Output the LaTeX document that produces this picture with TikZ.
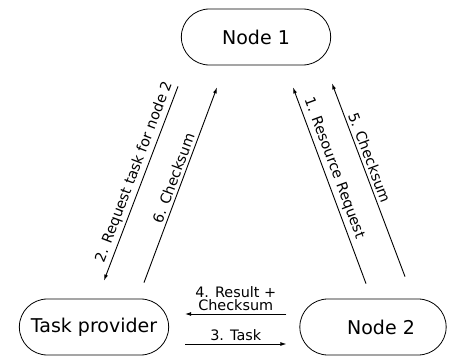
\documentclass[tikz,border=0pt]{standalone}
\usepackage{fontspec}
\setmainfont{DejaVu Sans}
\usetikzlibrary{positioning, arrows.meta, shapes.misc}
\tikzstyle{station} = [draw=black, rounded rectangle, minimum width=156pt, minimum height=56pt, line width=0.8pt, font=\fontsize{19}{22}\selectfont]
\tikzstyle{msg} = [-{Latex[length=6pt,width=4pt]}, line width=0.9pt]
\tikzstyle{msglabel} = [font=\fontsize{14.4}{13}\selectfont, inner sep=3pt]

\begin{document}
\begin{tikzpicture}[x=1pt, y=1pt, on grid]
	\useasboundingbox (0,0) rectangle (450,356);
	
	% stations
	\node[station] (node1) at (256,319) {Node 1};
	\node[station, below left=290pt and 162pt of node1] (provider) {Task provider};
	\node[station, minimum width=153pt, below right=290pt and 117pt of node1] (node2) {\hspace*{16pt}Node 2};
	
	% messages between node 1 and the task provider
	\draw[msg] ([shift={(-78,-21)}]node1.south) -- ([shift={(10,18)}]provider.north) node[msglabel, pos=0.46, sloped, above] {2. Request task for node 2};
	\draw[msg] ([shift={(50,16)}]provider.north) -- ([shift={(-39,-22)}]node1.south) node[msglabel, pos=0.52, sloped, above] {6. Checksum};
	
	% messages between node 2 and node 1
	\draw[msg] ([shift={(-7,15)}]node2.north) -- ([shift={(37,-22)}]node1.south) node[msglabel, pos=0.57, sloped, above] {1. Resource Request};
	\draw[msg] ([shift={(32,22)}]node2.north) -- ([shift={(76,-18)}]node1.south) node[msglabel, pos=0.6, sloped, above] {5. Checksum};
	
	% messages between the task provider and node 2
	\draw[msg] ([shift={(-13,13)}]node2.west) -- ([shift={(16,13)}]provider.east) node[msglabel, midway, above, align=center] {4. Result +\\Checksum};
	\draw[msg] ([shift={(16,-17)}]provider.east) -- ([shift={(-13,-17)}]node2.west) node[msglabel, midway, above] {3. Task};
	
\end{tikzpicture}
\end{document}
